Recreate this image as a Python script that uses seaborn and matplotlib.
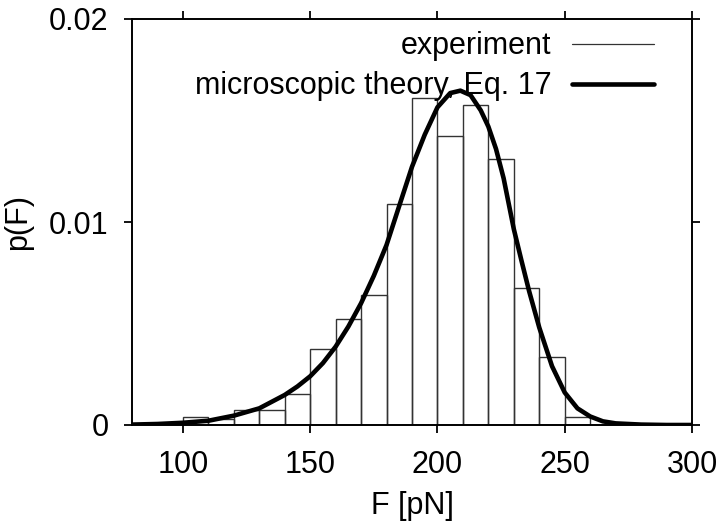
import numpy as np
import pandas as pd
import matplotlib
matplotlib.use("Agg")
import matplotlib.pyplot as plt
import seaborn as sns
from matplotlib.lines import Line2D

# experiment histogram (bin left edges, width 10 pN) and normalised heights
bin_left = [100, 110, 120, 130, 140, 150, 160, 170, 180, 190, 200, 210, 220, 230, 240, 250]
bin_width = 10
p_exp = [0.00038, 0.00030, 0.00075, 0.00072, 0.00151, 0.00374, 0.00524, 0.00639,
         0.01087, 0.01612, 0.01425, 0.01576, 0.01312, 0.00675, 0.00337, 0.00038]

# microscopic theory curve
F_theory = [80, 90, 100, 110, 120, 130, 140, 145, 150, 155, 160, 165, 170, 175, 180,
            185, 190, 195, 200, 205, 209, 213, 217, 220, 223, 226, 230, 233, 236,
            240, 245, 250, 255, 260, 265, 270, 280, 290, 300]
p_theory = [0.00002, 0.00005, 0.00011, 0.00021, 0.00046, 0.00082, 0.00148, 0.00190,
            0.00240, 0.00305, 0.00386, 0.00485, 0.00600, 0.00735, 0.00887, 0.01080,
            0.01272, 0.01430, 0.01565, 0.01635, 0.01647, 0.01625, 0.01550, 0.01470,
            0.01360, 0.01215, 0.00965, 0.00810, 0.00660, 0.00480, 0.00290, 0.00160,
            0.00082, 0.00042, 0.00018, 0.00008, 0.00002, 0.0, 0.0]

edges = bin_left + [bin_left[-1] + bin_width]
hist_df = pd.DataFrame({"F": np.array(bin_left) + bin_width / 2, "p": p_exp})
theory_df = pd.DataFrame({"F": F_theory, "p": p_theory})

sns.set_style("ticks")
plt.rcParams["font.family"] = ["Liberation Sans", "DejaVu Sans"]
plt.rcParams["font.size"] = 22
for key in ["text.color", "axes.labelcolor", "xtick.color", "ytick.color",
            "xtick.labelcolor", "ytick.labelcolor"]:
    plt.rcParams[key] = "black"

fig = plt.figure(figsize=(7.2, 5.31), dpi=100)
ax = fig.add_axes([132 / 720, 106 / 531, 560 / 720, 406 / 531])

sns.histplot(data=hist_df, x="F", weights="p", bins=edges, stat="count",
             fill=False, color="#333333", linewidth=1.0, ax=ax)
sns.lineplot(data=theory_df, x="F", y="p", color="black", linewidth=3.3, ax=ax)

ax.set_xlim(80, 300)
ax.set_ylim(0, 0.02)
ax.set_xticks([100, 150, 200, 250, 300])
ax.set_yticks([0, 0.01, 0.02])
ax.set_yticklabels(["0", "0.01", "0.02"])
ax.set_xlabel("F [pN]", labelpad=8)
ax.set_ylabel("p(F)", labelpad=11)

for s in ax.spines.values():
    s.set_visible(True)
    s.set_linewidth(1.4)
    s.set_color("black")
ax.tick_params(direction="out", length=6, width=1.3, colors="black",
               top=True, right=True, labelsize=22)
ax.tick_params(axis="x", pad=12)
ax.tick_params(axis="y", pad=11)

handles = [Line2D([], [], color="#333333", linewidth=0.9),
           Line2D([], [], color="black", linewidth=3.3)]
ax.legend(handles, ["experiment", "microscopic theory, Eq. 17"],
          loc="upper right", bbox_to_anchor=(0.954, 1.0), frameon=False,
          markerfirst=False, handlelength=2.7, handletextpad=0.65,
          labelspacing=0.33, borderaxespad=0.0, fontsize=22)

fig.savefig("out.png", dpi=100)
